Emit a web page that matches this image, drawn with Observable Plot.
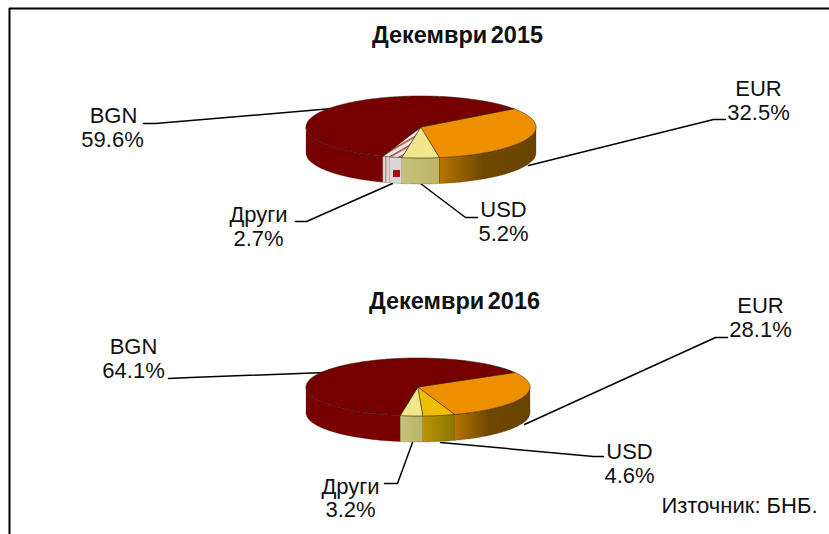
<!DOCTYPE html>
<html>
<head>
<meta charset="utf-8">
<script src="https://cdn.jsdelivr.net/npm/d3@7"></script>
<script src="https://cdn.jsdelivr.net/npm/@observablehq/plot@0.6"></script>
<style>
html,body{margin:0;padding:0;background:#fff}
svg{display:block}
svg g[font-weight="bold"]{word-spacing:-3px}
svg g[aria-label="area"]{filter:blur(0.35px)}
</style>
</head>
<body>
<div id="chart"></div>
<script>
// Data
const categories = ["EUR", "USD", "Други", "BGN"];
const shares2015 = [32.5, 5.2, 2.7, 59.6];
const shares2016 = [28.1, 4.6, 3.2, 64.1];
const titles = ["Декември 2015", "Декември 2016"];
const source = "Източник: БНБ.";

// Pie layout (ellipse centre, radii, wall depth, first slice angle in degrees)
const pie2015 = {cx: 421, cy: 127, rx: 115, ry: 31, depth: 26, start: 54};
const pie2016 = {cx: 418, cy: 387, rx: 112, ry: 29, depth: 26, start: 60};

// Styles per slice
const top2015 = ["#ee8f00", "#f0e68c", "url(#hatchTop)", "#760000"];
const top2016 = ["#ee8f00", "#f0be00", "#f0e68c", "#760000"];
const wall2015 = ["url(#wallEur)", "url(#wallPale)", "url(#hatchWall)", "#780000"];
const wall2016 = ["url(#wallEur)", "url(#wallGold)", "url(#wallPale)", "#780000"];

// Label layout: text, centre x, baseline y
const labels = [
  ["BGN", 113, 122], ["59.6%", 112, 146],
  ["EUR", 758, 95], ["32.5%", 758, 119],
  ["USD", 503, 216], ["5.2%", 503, 240],
  ["Други", 258, 221], ["2.7%", 258, 245],
  ["BGN", 133, 353], ["64.1%", 133, 377],
  ["EUR", 760, 312], ["28.1%", 760, 336],
  ["USD", 629, 458], ["4.6%", 629, 482],
  ["Други", 350, 493], ["3.2%", 350, 516]
];
const leaders = [
  [[143,123],[155,123],[332,108]],
  [[725,119],[713,119],[528,165]],
  [[477,217],[465,217],[420,183]],
  [[295,221],[306,221],[392,183]],
  [[168,378],[190,377],[325,372]],
  [[727,337],[715,337],[524,424]],
  [[603,456],[593,456],[440,442]],
  [[384,483],[397,483],[412,442]]
];
const frame = [[829,8],[9,8],[9,534]];

function slices(shares, layout) {
  const a0 = layout.start * Math.PI / 180;
  return d3.pie().sort(null).startAngle(a0).endAngle(a0 + 2 * Math.PI)(shares);
}
const at = (layout, a) => ({
  x: layout.cx + layout.rx * Math.sin(a),
  y: layout.cy - layout.ry * Math.cos(a)
});
function arcPoints(a0, a1, layout) {
  const n = Math.max(2, Math.ceil((a1 - a0) / (Math.PI / 180)));
  return d3.range(n + 1).map(i => at(layout, a0 + (a1 - a0) * i / n));
}
function pieMarks(shares, layout, tops, walls) {
  const arcs = slices(shares, layout);
  const marks = [];
  const front0 = Math.PI / 2, front1 = 3 * Math.PI / 2;
  arcs.forEach((s, i) => {
    // the front half of the wall is what shows; angles may run past one turn
    [0, 2 * Math.PI].forEach(shift => {
      const a0 = Math.max(s.startAngle - shift, front0);
      const a1 = Math.min(s.endAngle - shift, front1);
      if (a1 > a0) {
        const pts = arcPoints(a0, a1, layout).map(p => ({x: p.x, y: p.y, yb: p.y + layout.depth}));
        marks.push(Plot.area(pts, {x1: "x", x2: "x", y1: "y", y2: "yb", fill: walls[i], stroke: "#4a3000", strokeWidth: 0.4, strokeOpacity: 0.6}));
      }
    });
  });
  arcs.forEach((s, i) => {
    const pts = arcPoints(s.startAngle, s.endAngle, layout);
    marks.push(Plot.area(pts, {x1: () => layout.cx, y1: () => layout.cy, x2: "x", y2: "y", fill: tops[i], stroke: "#2a1a00", strokeWidth: 0.7, strokeOpacity: 0.75}));
  });
  return marks;
}
const defs = () => {
  const g = d3.create("svg:g");
  g.html(`<defs>
    <linearGradient id="wallEur" x1="0" x2="1" y1="0" y2="0">
      <stop offset="0" stop-color="#b87500"/><stop offset="0.45" stop-color="#6f4800"/><stop offset="1" stop-color="#684400"/>
    </linearGradient>
    <linearGradient id="wallPale" x1="0" x2="1" y1="0" y2="0">
      <stop offset="0" stop-color="#c8c37c"/><stop offset="1" stop-color="#b9b468"/>
    </linearGradient>
    <linearGradient id="wallGold" x1="0" x2="1" y1="0" y2="0">
      <stop offset="0" stop-color="#b99600"/><stop offset="1" stop-color="#8c7600"/>
    </linearGradient>
    <pattern id="hatchTop" width="5" height="5" patternUnits="userSpaceOnUse" patternTransform="rotate(-30)">
      <rect width="5" height="5" fill="#f4e9e6"/><rect width="5" height="1.6" fill="#a84a45"/>
    </pattern>
    <pattern id="hatchWall" width="30" height="40" patternUnits="userSpaceOnUse" x="380" y="160">
      <rect width="30" height="40" fill="#d9d6d6"/><rect x="13" y="10" width="7" height="7" fill="#9c1414"/><rect x="5" y="0" width="1.5" height="40" fill="#c08c8c"/><rect x="9" y="0" width="1" height="40" fill="#c9a8a8"/>
    </pattern>
  </defs>`);
  return g.node();
};

const plot = Plot.plot({
  width: 829, height: 534,
  margin: 0,
  x: {domain: [0, 829], range: [0, 829], axis: null},
  y: {domain: [0, 534], range: [0, 534], axis: null},
  style: {background: "#fff", fontFamily: "'Liberation Sans', Arial, sans-serif"},
  marks: [
    defs,
    Plot.line(frame, {x: d => d[0], y: d => d[1], stroke: "#000", strokeWidth: 2}),
    ...leaders.map(l => Plot.line(l, {x: d => d[0], y: d => d[1], stroke: "#000", strokeWidth: 1.5})),
    ...pieMarks(shares2015, pie2015, top2015, wall2015),
    ...pieMarks(shares2016, pie2016, top2016, wall2016),
    Plot.text(labels, {x: d => d[1], y: d => d[2], text: d => d[0], textAnchor: "middle", lineAnchor: "bottom", fontSize: 22, fill: "#111"}),
    Plot.text([[titles[0], 457, 42], [titles[1], 454, 308]], {x: d => d[1], y: d => d[2], text: d => d[0], textAnchor: "middle", lineAnchor: "bottom", fontSize: 23.5, fontWeight: "bold", fill: "#111"}),
    Plot.text([source], {x: () => 817, y: () => 512, text: d => d, textAnchor: "end", lineAnchor: "bottom", fontSize: 22, fill: "#111"})
  ]
});
document.getElementById("chart").append(plot);
</script>
</body>
</html>
